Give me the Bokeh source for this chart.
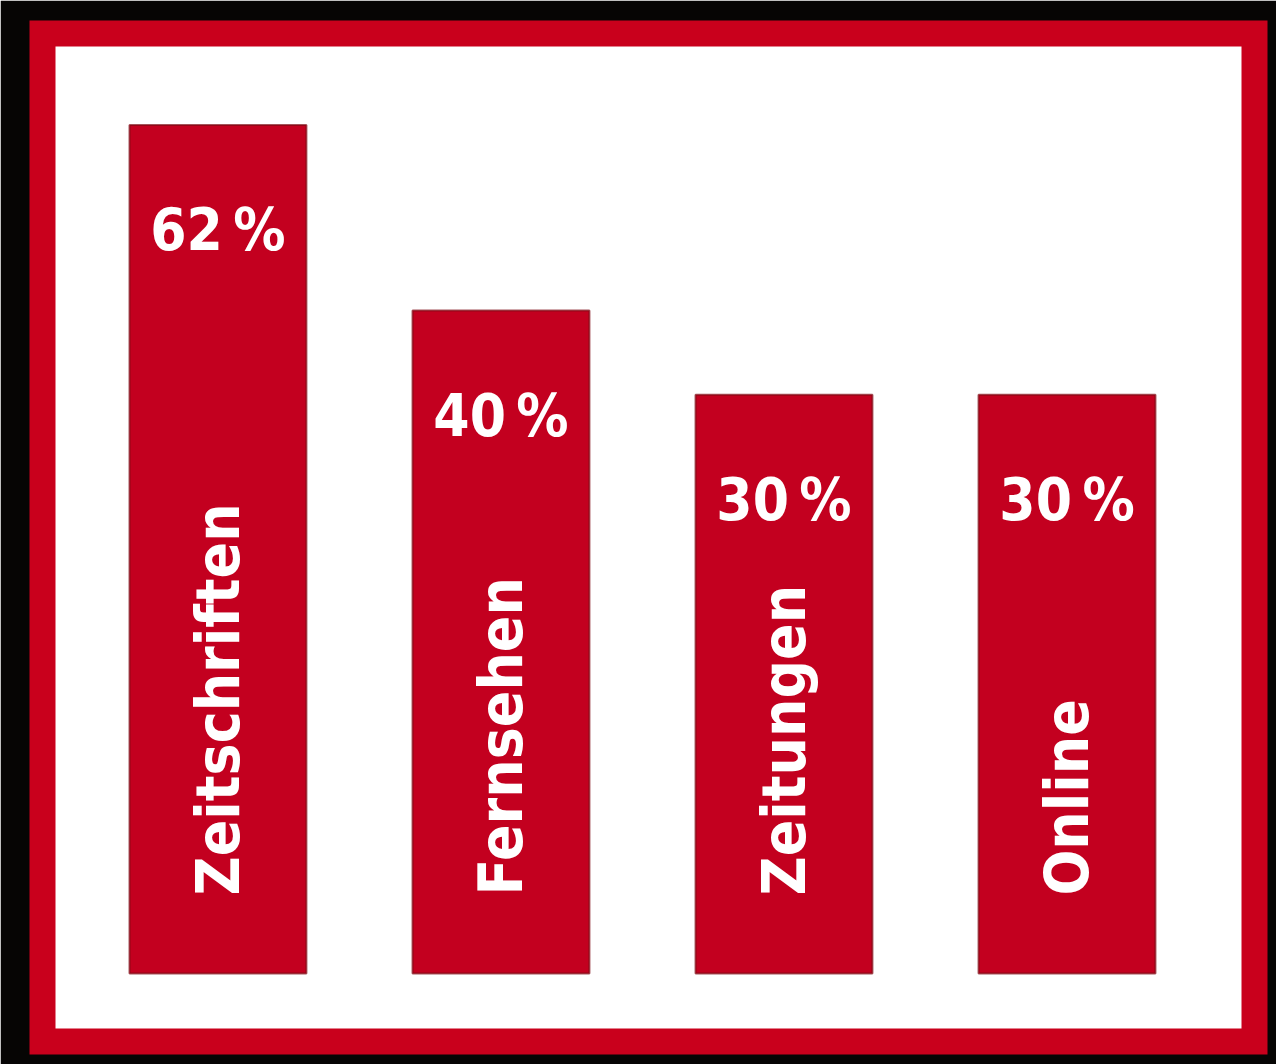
from bokeh.plotting import figure
from bokeh.models import ColumnDataSource, Range1d
from bokeh.core.properties import value
from bokeh.embed import file_html
from bokeh.resources import INLINE

# ---- data ----
categories = ["Zeitschriften", "Fernsehen", "Zeitungen", "Online"]
shares = [62, 40, 30, 30]
share_labels = ["62\u2009%", "40\u2009%", "30\u2009%", "30\u2009%"]

# bars are drawn from a baseline below zero (as in the original graphic)
BASELINE = -38.6

xs = list(range(len(categories)))
src = ColumnDataSource(dict(x=xs, top=shares, cat=categories, lab=share_labels,
                            base=[BASELINE] * len(categories)))

BAR_RED = "#c3001f"
FRAME_RED = "#c9001c"
FONT = value("DejaVu Sans Condensed")

p = figure(width=1276, height=1064, output_backend="svg", toolbar_location=None,
           x_axis_location=None, y_axis_location=None,
           x_range=Range1d(-0.620, 3.6625), y_range=Range1d(-46.66, 72.84),
           min_border_left=42, min_border_right=22, min_border_top=33, min_border_bottom=23)
p.border_fill_color = "#060504"
p.background_fill_color = "white"
p.outline_line_color = FRAME_RED
p.outline_line_width = 26
p.outline_line_join = "miter"
p.grid.visible = False

p.vbar(x="x", top="top", bottom="base", width=0.625, source=src,
       fill_color=BAR_RED, line_color="#7d0a14", line_width=2, line_alpha=0.7)

# percentage labels
p.text(x="x", y="top", text="lab", source=src, text_font=FONT, text_font_style="bold",
       text_font_size="58px", text_color="white", text_align="center",
       text_baseline="alphabetic", y_offset=105)

# rotated category labels
p.text(x="x", y="base", text="cat", source=src, text_font=FONT, text_font_style="bold",
       text_font_size="60px", text_color="white", text_align="left",
       text_baseline="middle", angle=1.5708, y_offset=-78)

open("out.html", "w").write(file_html(p, INLINE))
